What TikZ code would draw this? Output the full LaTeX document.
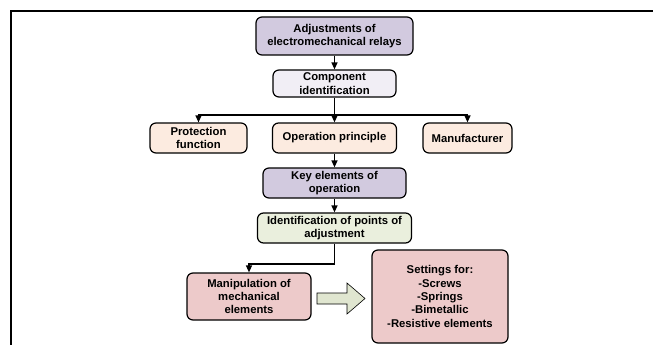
\documentclass[tikz,border=0pt]{standalone}
\usepackage{fontspec}
\setmainfont{Liberation Sans}
\usepackage{xcolor}
\usetikzlibrary{arrows.meta}

\definecolor{lilac}{HTML}{D2CADF}
\definecolor{paleLilac}{HTML}{F1EEF5}
\definecolor{peach}{HTML}{FCEBE0}
\definecolor{paleGreen}{HTML}{EAEFDD}
\definecolor{rose}{HTML}{EDCACA}
\definecolor{arrowGreen}{HTML}{E0E6D0}

\tikzset{
    box/.style={draw, rounded corners=6pt, line width=1.2pt, align=center,
        inner sep=0pt, font=\fontsize{11.3}{13.4}\selectfont\bfseries},
    flow/.style={line width=1.3pt, -{Triangle[length=7pt,width=6pt]}}
}

\begin{document}
\begin{tikzpicture}[x=1pt,y=-1pt]
            \useasboundingbox (0,0) rectangle (653,345);
            \draw[line width=2pt] (11,345) -- (11,11) -- (653,11);

            \node[box, fill=lilac, minimum width=157pt, minimum height=38pt] (relays) at (334.5,36) {Adjustments of\\electromechanical relays};
            \node[box, fill=paleLilac, minimum width=123pt, minimum height=27pt] (ident) at (334.5,83.5) {Component\\identification};
            \node[box, fill=peach, minimum width=97pt, minimum height=30pt] (protect) at (198.5,138) {Protection\\function};
            \node[box, fill=peach, minimum width=124pt, minimum height=30pt] (principle) at (334.5,138) {Operation principle};
            \node[box, fill=peach, minimum width=89pt, minimum height=30pt] (maker) at (467.5,138) {Manufacturer};
            \node[box, fill=lilac, minimum width=143pt, minimum height=30pt] (keyel) at (334.5,183) {Key elements of\\operation};
            \node[box, fill=paleGreen, minimum width=154pt, minimum height=30pt] (points) at (334.5,228) {Identification of points of\\adjustment};
            \node[box, fill=rose, minimum width=124pt, minimum height=47pt] (manip) at (249,296.5) {Manipulation of\\mechanical\\elements};
            \node[box, fill=rose, minimum width=136pt, minimum height=93pt] (settings) at (440,296.5) {Settings for:\\-Screws\\-Springs\\-Bimetallic\\-Resistive elements};

            \coordinate (split) at (334.5,115);
            \coordinate (bend) at (334.5,264);

            \draw[flow] (relays) -- (ident);
            \draw[line width=1.3pt] (ident) -- (split);
            \draw[flow] (split) -| (protect);
            \draw[flow] (split) -- (principle);
            \draw[flow] (split) -| (maker);
            \draw[flow] (principle) -- (keyel);
            \draw[flow] (keyel) -- (points);
            \draw[line width=1.3pt] (points) -- (bend);
            \draw[flow] (bend) -| (manip);

            \draw[fill=arrowGreen, line width=0.6pt] (317,293) -- (347,293) -- (347,283) -- (365,298.5)
                -- (347,314) -- (347,304) -- (317,304) -- cycle;
        \end{tikzpicture}
\end{document}
